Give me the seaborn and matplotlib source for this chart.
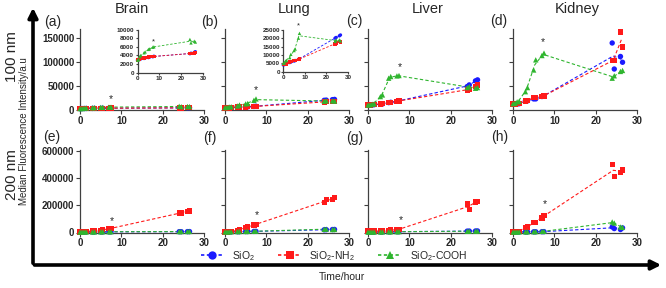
import numpy as np
import pandas as pd
import matplotlib
matplotlib.use('Agg')
import matplotlib.pyplot as plt
import matplotlib.ticker as mticker
from matplotlib.patches import FancyArrowPatch
from matplotlib.lines import Line2D
import seaborn as sns

### DATA ###
# sampling times, two replicates per time point
t_rep1 = [0, 1, 3, 5, 7, 24, 26]
t_rep2 = [0.5, 1.5, 3.5, 5.5, 7.5, 24.5, 26.5]

series = ['SiO2', 'SiO2-NH2', 'SiO2-COOH']

## 100 nm
brain100_sio2 = [[2900, 3100, 3300, 3500, 3700, 4400, 4700], [3000, 3200, 3400, 3600, 3800, 4500, 4850]]
brain100_nh2 = [[2900, 3200, 3400, 3600, 3700, 4400, 4600], [3000, 3300, 3500, 3700, 3800, 4500, 4700]]
brain100_cooh = [[2900, 3700, 4600, 5400, 5900, 7700, 7300], [3000, 4000, 4800, 5500, 6000, 6900, 7100]]

lung100_sio2 = [[4100, 4400, 5500, 6400, 7400, 20100, 21500], [4300, 4600, 5800, 6700, 7800, 20500, 22000]]
lung100_nh2 = [[4200, 4500, 5900, 6600, 7300, 16600, 18200], [4400, 4700, 6100, 6800, 7600, 17200, 17800]]
lung100_cooh = [[5000, 6400, 8400, 12700, 20100, 18200, 19100], [5300, 6800, 10400, 13600, 23000, 19100, 18500]]

liver100_sio2 = [[10400, 10400, 11800, 15300, 18000, 48600, 60400], [10400, 11000, 12500, 16000, 19400, 52000, 62500]]
liver100_nh2 = [[10400, 11000, 12500, 15000, 18000, 41700, 48600], [10600, 11200, 13000, 16000, 19000, 43000, 52000]]
liver100_cooh = [[10400, 12000, 27800, 66000, 70800, 46500, 45100], [10600, 13000, 31250, 69400, 71500, 48600, 46500]]

kidney100_sio2 = [[12500, 12500, 19000, 23000, 28000, 139000, 111000], [12500, 13000, 19000, 23000, 29000, 85000, 99000]]
kidney100_nh2 = [[12500, 13000, 19000, 26000, 28000, 103000, 162000], [12500, 13500, 20000, 26000, 29000, 103000, 131000]]
kidney100_cooh = [[13000, 17000, 38000, 83000, 113000, 66000, 80000], [14000, 18000, 46500, 104000, 118000, 71000, 82000]]

## 200 nm
brain200_sio2 = [[3000, 3500, 4000, 4500, 5000, 6000, 6500], [3200, 3600, 4200, 4700, 5200, 6200, 6800]]
brain200_nh2 = [[5000, 7000, 12000, 17000, 28000, 143000, 153000], [5500, 7500, 13000, 20000, 30000, 145000, 160000]]
brain200_cooh = [[3000, 3500, 4000, 5000, 5500, 7000, 7500], [3200, 3700, 4200, 5200, 5800, 7200, 7800]]

lung200_sio2 = [[4000, 4500, 6000, 7000, 8000, 20000, 22000], [4200, 4800, 6300, 7300, 8400, 21000, 22500]]
lung200_nh2 = [[3000, 8000, 17000, 39000, 56000, 220000, 246000], [3500, 9000, 18000, 40000, 61000, 244000, 258000]]
lung200_cooh = [[4000, 5000, 7000, 8000, 9000, 24000, 22000], [4300, 5300, 7300, 8400, 9500, 25000, 23000]]

liver200_sio2 = [[3000, 3000, 4000, 5000, 6000, 10000, 11000], [3200, 3300, 4200, 5300, 6300, 10500, 11500]]
liver200_nh2 = [[10000, 10000, 12000, 17000, 20000, 212000, 225000], [10500, 10500, 12500, 17500, 22500, 172000, 230000]]
liver200_cooh = [[3000, 3200, 4000, 5000, 6000, 9000, 10000], [3200, 3400, 4300, 5300, 6300, 9500, 10500]]

kidney200_sio2 = [[3000, 4000, 4000, 5000, 6000, 41000, 22000], [3300, 4300, 4300, 5400, 6400, 29000, 34000]]
kidney200_nh2 = [[5000, 8000, 37000, 73000, 107000, 505000, 444000], [5500, 9000, 41000, 75000, 127000, 415000, 461000]]
kidney200_cooh = [[3000, 4000, 5000, 6000, 8000, 78000, 41000], [3300, 4300, 5300, 6400, 8500, 70000, 38000]]

organs = ['Brain', 'Lung', 'Liver', 'Kidney']
panel_letters = ['(a)', '(b)', '(c)', '(d)', '(e)', '(f)', '(g)', '(h)']

# significance stars (time, value) per panel
star_t = [7.5, 7.5, 7.7, 7.2, 7.7, 7.8, 8.0, 7.6]
star_y = [23500, 41600, 88000, 141000, 84600, 127000, 92000, 209000]
# stars in the insets of (a) and (b)
inset_star_t = [7.5, 7.0]
inset_star_y = [7100, 27400]

### CONFIGS ###
palette = {'SiO2': '#1a1aff', 'SiO2-NH2': '#ff1a1a', 'SiO2-COOH': '#2fb52f'}
markers = {'SiO2': 'o', 'SiO2-NH2': 's', 'SiO2-COOH': '^'}
W, H = 666, 288

panel_data = {
    ('100', 'Brain'): [brain100_sio2, brain100_nh2, brain100_cooh],
    ('100', 'Lung'): [lung100_sio2, lung100_nh2, lung100_cooh],
    ('100', 'Liver'): [liver100_sio2, liver100_nh2, liver100_cooh],
    ('100', 'Kidney'): [kidney100_sio2, kidney100_nh2, kidney100_cooh],
    ('200', 'Brain'): [brain200_sio2, brain200_nh2, brain200_cooh],
    ('200', 'Lung'): [lung200_sio2, lung200_nh2, lung200_cooh],
    ('200', 'Liver'): [liver200_sio2, liver200_nh2, liver200_cooh],
    ('200', 'Kidney'): [kidney200_sio2, kidney200_nh2, kidney200_cooh],
}

## build long dataframe
rows = []
for (size, organ), lists in panel_data.items():
    for name, reps in zip(series, lists):
        for rep, times in zip(reps, [t_rep1, t_rep2]):
            for i, (t, v) in enumerate(zip(times, rep)):
                rows.append({'size': size, 'organ': organ, 'series': name, 'pair': i, 'time': t, 'value': v})
df = pd.DataFrame(rows)
# mean of the replicates -> dashed connecting line
means = df.groupby(['size', 'organ', 'series', 'pair'], as_index=False)[['time', 'value']].mean()

#####################################################
################# PLOT ##############################
#####################################################
sns.set_style('ticks')
plt.rcParams['font.family'] = ['Liberation Sans', 'DejaVu Sans']
plt.rcParams['mathtext.default'] = 'regular'

fig = plt.figure(figsize=(W / 100, H / 100), dpi=100)


def px_axes(left, top, right, bottom):
    return fig.add_axes([left / W, 1 - bottom / H, (right - left) / W, (bottom - top) / H])


def draw_panel(ax, size, organ, s=15, lw=0.8):
    sub = df[(df['size'] == size) & (df['organ'] == organ)]
    msub = means[(means['size'] == size) & (means['organ'] == organ)]
    sns.lineplot(data=msub, x='time', y='value', hue='series', palette=palette, estimator=None,
                 sort=False, ax=ax, legend=False, ls=(0, (3, 2)), lw=lw)
    sns.scatterplot(data=sub, x='time', y='value', hue='series', style='series', markers=markers,
                    palette=palette, s=s, linewidth=0, ax=ax, legend=False, clip_on=False, zorder=3)
    ax.set_xlabel('')
    ax.set_ylabel('')


def style_axes(ax, ylim, yticks, ylabels, fs=7, tick_len=3):
    ax.set_xlim(0, 30)
    ax.set_ylim(*ylim)
    ax.set_xticks([0, 10, 20, 30])
    ax.set_yticks(yticks)
    ax.yaxis.set_major_formatter(mticker.FuncFormatter(lambda v, p: f'{int(v)}'))
    if not ylabels:
        ax.set_yticklabels([])
    for sp in ['top', 'right']:
        ax.spines[sp].set_visible(False)
    for sp in ['left', 'bottom']:
        ax.spines[sp].set_color('#404040')
        ax.spines[sp].set_linewidth(0.9)
    ax.tick_params(labelsize=fs, length=tick_len, width=0.8, color='#404040', pad=1)
    for lab in ax.get_xticklabels() + ax.get_yticklabels():
        lab.set_fontweight('bold')
    ax.patch.set_alpha(0)


col_left = [80, 225, 368, 513]
col_w = 124
top_row = (29, 110)
bot_row = (150, 232.5)

for j, organ in enumerate(organs):
    # 100 nm row
    ax = px_axes(col_left[j], top_row[0], col_left[j] + col_w, top_row[1])
    draw_panel(ax, '100', organ)
    style_axes(ax, (0, 168000), [0, 50000, 100000, 150000], j == 0)
    ax.text(star_t[j], star_y[j], '*', ha='center', va='center', fontsize=7.5)

    # 200 nm row
    ax2 = px_axes(col_left[j], bot_row[0], col_left[j] + col_w, bot_row[1])
    draw_panel(ax2, '200', organ)
    style_axes(ax2, (0, 610000), [0, 200000, 400000, 600000], j == 0)
    ax2.text(star_t[4 + j], star_y[4 + j], '*', ha='center', va='center', fontsize=7.5)

## insets for (a) and (b)
ins_a = px_axes(137.5, 29.5, 203, 72.7)
draw_panel(ins_a, '100', 'Brain', s=6, lw=0.6)
style_axes(ins_a, (0, 10000), [0, 2000, 4000, 6000, 8000, 10000], True, fs=4.5, tick_len=1.5)
ins_a.text(inset_star_t[0], inset_star_y[0], '*', ha='center', va='center', fontsize=5.5)

ins_b = px_axes(283.3, 30, 348, 71.7)
draw_panel(ins_b, '100', 'Lung', s=6, lw=0.6)
style_axes(ins_b, (0, 25000), [0, 5000, 10000, 15000, 20000, 25000], True, fs=4.5, tick_len=1.5)
ins_b.text(inset_star_t[1], inset_star_y[1], '*', ha='center', va='center', fontsize=5.5, clip_on=False)

## titles and panel letters
title_x = [132, 294, 428, 577]
for j, organ in enumerate(organs):
    fig.text(title_x[j] / W, 1 - 9 / H, organ, ha='center', va='center', fontsize=10.5)

letter_pos = [(53, 22), (210, 22), (354, 21), (499, 21), (52, 137), (210, 138), (355, 138), (500, 137)]
for lab, (x, y) in zip(panel_letters, letter_pos):
    fig.text(x / W, 1 - y / H, lab, ha='center', va='center', fontsize=10)

fig.text(12 / W, 1 - 57 / H, '100 nm', rotation=90, ha='center', va='center', fontsize=11)
fig.text(12 / W, 1 - 175 / H, '200 nm', rotation=90, ha='center', va='center', fontsize=11)
fig.text(24 / W, 1 - 131 / H, 'Median Fluorescence Intensity/a.u', rotation=90, ha='center', va='center', fontsize=7)
fig.text(342 / W, 1 - 277 / H, 'Time/hour', ha='center', va='center', fontsize=7.5)

## big axis arrows
arr_kw = dict(arrowstyle='-|>', mutation_scale=14, lw=2.6, color='black', transform=fig.transFigure)
fig.patches.append(FancyArrowPatch((33 / W, 1 - 266 / H), (33 / W, 1 - 5 / H), **arr_kw))
fig.patches.append(FancyArrowPatch((31.7 / W, 1 - 265 / H), (664 / W, 1 - 265 / H), **arr_kw))

## legend
labels = {'SiO2': 'SiO$_2$', 'SiO2-NH2': 'SiO$_2$-NH$_2$', 'SiO2-COOH': 'SiO$_2$-COOH'}
handles = [Line2D([0], [0], color=palette[k], ls=(0, (2, 1.5)), lw=1.2, marker=markers[k],
                  markersize=6, markeredgewidth=0) for k in series]
fig.legend(handles, [labels[k] for k in series], loc='center', bbox_to_anchor=(334 / W, 1 - 256 / H),
           ncol=3, frameon=False, fontsize=7.5, handlelength=2.2, columnspacing=2.2, handletextpad=0.8)

fig.savefig('out.png', dpi=100)
